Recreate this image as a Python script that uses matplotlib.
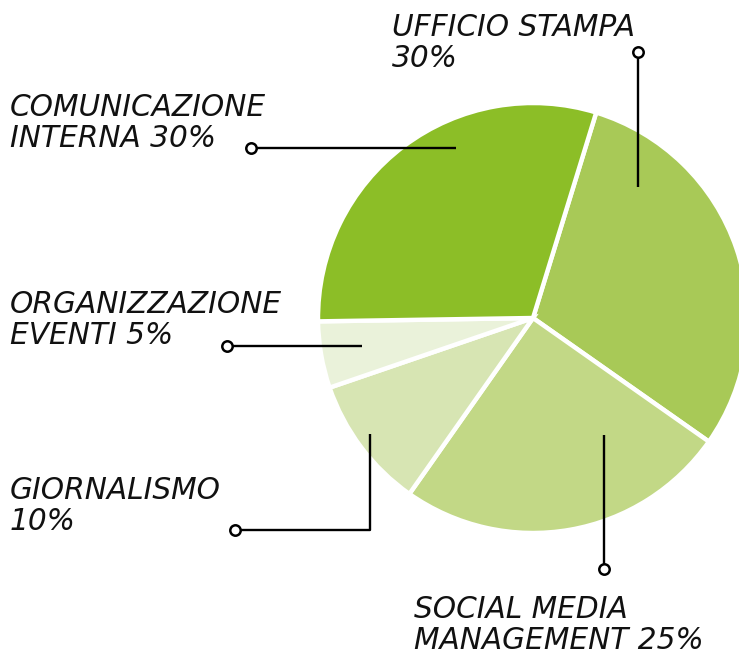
import matplotlib
matplotlib.use("Agg")
import matplotlib.pyplot as plt

# Data (clockwise from the top)
categories = ["UFFICIO STAMPA", "SOCIAL MEDIA\nMANAGEMENT", "GIORNALISMO",
              "ORGANIZZAZIONE\nEVENTI", "COMUNICAZIONE\nINTERNA"]
values = [30, 25, 10, 5, 30]
colors = ["#A8C957", "#C2D886", "#D7E5B3", "#EAF2DA", "#8CBE27"]
label_texts = ["UFFICIO STAMPA\n30%", "SOCIAL MEDIA\nMANAGEMENT 25%", "GIORNALISMO\n10%",
               "ORGANIZZAZIONE\nEVENTI 5%", "COMUNICAZIONE\nINTERNA 30%"]

W, H = 739, 655
fig = plt.figure(figsize=(W / 100, H / 100), dpi=100)
ax = fig.add_axes([0, 0, 1, 1])

cx, cy, r = 533, 318, 215
ax.pie(values, colors=colors, startangle=-72.9, counterclock=True,
       center=(cx, cy), radius=r, frame=True,
       wedgeprops=dict(edgecolor="white", linewidth=3.2))
ax.set_xlim(0, W)
ax.set_ylim(H, 0)
ax.set_aspect("auto")
ax.axis("off")

# label layout: (x, baseline of first line)
label_pos = [(392, 36), (414, 618), (10, 499), (10, 313), (10, 116)]
# leader lines: list of points, first is the circle end
leaders = [
    [(637.5, 52), (637.5, 187)],
    [(604, 569), (604, 435)],
    [(235, 529.5), (369.5, 529.5), (369.5, 434)],
    [(227, 346), (362, 346)],
    [(251, 147.5), (456, 147.5)],
]

font = dict(family=["DejaVu Sans"], style="oblique", weight="normal",
            size=21.3, color="#111111")
for txt, (x, yb) in zip(label_texts, label_pos):
    lines = txt.split("\n")
    for i, ln in enumerate(lines):
        ax.text(x, yb + 31 * i, ln, ha="left", va="baseline", **font)

for pts in leaders:
    xs = [p[0] for p in pts]
    ys = [p[1] for p in pts]
    ax.plot(xs, ys, color="black", lw=1.7, solid_capstyle="butt", zorder=5)
    ax.plot(xs[0], ys[0], "o", ms=7.5, mfc="white", mec="black", mew=1.8, zorder=6)

fig.savefig("out.png", dpi=100)
